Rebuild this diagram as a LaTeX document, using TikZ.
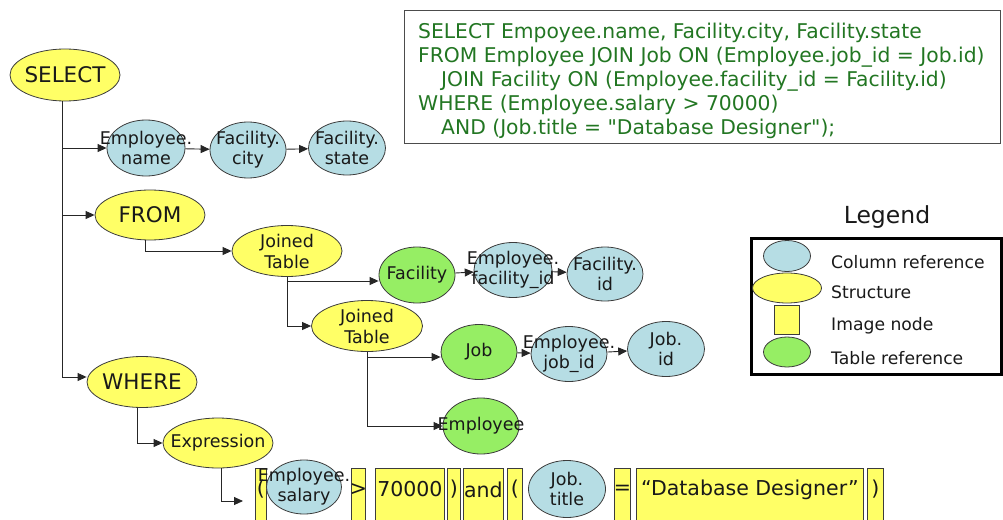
\documentclass[tikz,border=0pt]{standalone}
\usepackage{fontspec}
\setmainfont{DejaVu Sans}
\usetikzlibrary{shapes.geometric,arrows.meta}

\definecolor{colblue}{RGB}{182,221,228}
\definecolor{stryel}{RGB}{255,255,102}
\definecolor{tabgreen}{RGB}{150,238,100}
\definecolor{sqlgreen}{RGB}{34,118,34}
\definecolor{edge}{RGB}{60,60,60}

\newcommand\fbig{\fontsize{21.5}{24}\selectfont}
\newcommand\fmid{\fontsize{17.5}{21}\selectfont}
\newcommand\fcol{\fontsize{17.5}{20}\selectfont}
\newcommand\fimg{\fontsize{20.5}{24}\selectfont}
\newcommand\fsql{\fontsize{20.3}{24}\selectfont}
\newcommand\fleg{\fontsize{17.2}{20}\selectfont}

\begin{document}
\begin{tikzpicture}[x=1pt,y=-1pt,
  shp/.style={ellipse, draw=edge, line width=0.8pt, inner sep=0pt},
  lab/.style={align=center, text=black!90, inner sep=0pt},
  colref/.style={shp, fill=colblue, label={[lab, font=\fcol]center:#1}},
  tabref/.style={shp, fill=tabgreen, label={[lab, font=\fmid]center:#1}},
  strbig/.style={shp, fill=stryel, minimum width=110pt, label={[lab, font=\fbig]center:#1}},
  strmid/.style={shp, fill=stryel, minimum width=110pt, label={[lab, font=\fmid]center:#1}},
  imgbox/.style={rectangle, draw=edge, line width=0.8pt, fill=stryel, inner sep=0pt,
                 minimum height=60pt, anchor=north west,
                 label={[lab, font=\fimg, yshift=9pt]center:#1}},
  arr/.style={draw=black!85, line width=0.9pt, -{Triangle[length=9pt,width=8pt]}},
  legtxt/.style={anchor=base west, font=\fleg, text=black!90, inner sep=0pt}
]
\useasboundingbox (0,0) rectangle (1003,519);

% ---- SQL statement ----
\node[draw=black!70, line width=0.9pt, anchor=north west, inner sep=0pt,
      minimum width=596pt, minimum height=133pt] (sqlbox) at (404,10) {};
\node[anchor=north west, align=left, font=\fsql, text=sqlgreen, inner sep=0pt] (sql) at (418,23)
  {SELECT Empoyee.name, Facility.city, Facility.state\\
   FROM Employee JOIN Job ON (Employee.job\_id = Job.id)\\
   \hspace*{23pt}JOIN Facility ON (Employee.facility\_id = Facility.id)\\
   WHERE (Employee.salary > 70000)\\
   \hspace*{23pt}AND (Job.title = \textquotedbl Database Designer\textquotedbl);};

% ---- structure nodes ----
\node[strbig=SELECT, minimum height=52pt] (sel) at (65,75) {};
\node[strbig=FROM, minimum height=50pt] (from) at (150,215) {};
\node[strbig=WHERE, minimum height=51pt] (where) at (142,382) {};
\node[strmid={Joined\\Table}, minimum height=51pt] (jt1) at (287,251) {};
\node[strmid={Joined\\Table}, minimum width=111pt, minimum height=51pt] (jt2) at (367,326) {};
\node[strmid=Expression, minimum height=50pt] (expr) at (218,443) {};

% ---- column references ----
\node[colref={Employee.\\name}, minimum width=78pt, minimum height=56pt] (ename) at (146,148) {};
\node[colref={Facility.\\city}, minimum width=76pt, minimum height=56pt] (fcity) at (248,150) {};
\node[colref={Facility.\\state}, minimum width=77pt, minimum height=54pt] (fstate) at (347,148) {};
\node[colref={Employee.\\facility\_id}, minimum width=78pt, minimum height=55pt] (efac) at (513,270) {};
\node[colref={Facility.\\id}, minimum width=76pt, minimum height=54pt] (fid) at (605,274) {};
\node[colref={Employee.\\job\_id}, minimum width=76pt, minimum height=55pt] (ejob) at (569,354) {};
\node[colref={Job.\\id}, minimum width=77pt, minimum height=55pt] (jid) at (666,349) {};

% ---- table references ----
\node[tabref=Facility, minimum width=76pt, minimum height=56pt] (fac) at (417,275) {};
\node[tabref=Job, minimum width=76pt, minimum height=55pt] (job) at (479,352) {};
\node[tabref=Employee, minimum width=76pt, minimum height=56pt] (emp) at (481,426) {};

% ---- expression row ----
\node[imgbox={(}, minimum width=11pt] (r1) at (255,468) {};
\node[imgbox={>}, minimum width=14pt] (r2) at (351,468) {};
\node[imgbox={70000}, minimum width=69pt] (r3) at (375,468) {};
\node[imgbox={)}, minimum width=13pt] (r4) at (447,468) {};
\node[imgbox={and}, minimum width=40pt] (r5) at (463,468) {};
\node[imgbox={(}, minimum width=15pt] (r6) at (507,468) {};
\node[imgbox={{=}}, minimum width=16pt] (r7) at (614,468) {};
\node[imgbox={“Database Designer”}, minimum width=227pt] (r8) at (636,468) {};
\node[imgbox={)}, minimum width=16pt] (r9) at (867,468) {};
\node[colref={Employee.\\salary}, minimum width=75pt, minimum height=54pt] (esal) at (304,487) {};
\node[colref={Job.\\title}, minimum width=77pt, minimum height=57pt] (jtitle) at (567,489) {};

% ---- connectors ----
\coordinate (trunk) at ([xshift=-3pt]sel.south);
\draw[arr] (trunk) |- ([yshift=5pt]where.west);
\draw[arr] (trunk |- ename.west) -- (ename.west);
\draw[arr] (trunk |- from.west) -- (from.west);
\draw[arr] (ename) -- (fcity);
\draw[arr] (fcity) -- (fstate);

\draw[arr] ([xshift=-5pt]from.south) |- (jt1.west);
\draw[arr] (jt1.south) |- (jt2.west);
\draw[arr] (jt1.south |- 0,281) -- (fac.west |- 0,281);
\draw[arr] (fac) -- (efac);
\draw[arr] (efac) -- (fid);

\draw[arr] (jt2.south) |- (emp.west);
\draw[arr] (jt2.south |- 0,357) -- (job.west |- 0,357);
\draw[arr] (job) -- (ejob);
\draw[arr] (ejob) -- (jid);

\draw[arr] ([xshift=-5pt]where.south) |- (expr.west);
\coordinate (rowin) at (243,501);
\draw[arr] ([xshift=3pt]expr.south) |- (rowin);

% ---- legend ----
\node[font=\fontsize{23.5}{27}\selectfont, text=black!90] (legtitle) at (887,217) {Legend};
\node[draw=black, line width=2.6pt, anchor=north west, inner sep=0pt,
      minimum width=250pt, minimum height=136pt] (legbox) at (750,237) {};
\node[shp, fill=colblue, minimum width=47pt, minimum height=31pt] (lg1) at (787,256) {};
\node[shp, fill=stryel, minimum width=69pt, minimum height=30pt] (lg2) at (787,288) {};
\node[rectangle, draw=edge, line width=0.8pt, fill=stryel, minimum width=25pt, minimum height=29pt, inner sep=0pt] (lg3) at (787,320) {};
\node[shp, fill=tabgreen, minimum width=47pt, minimum height=30pt] (lg4) at (787,352) {};
\node[legtxt] (lt1) at (831,268) {Column reference};
\node[legtxt] (lt2) at (831,298) {Structure};
\node[legtxt] (lt3) at (831,330) {Image node};
\node[legtxt] (lt4) at (831,364) {Table reference};
\end{tikzpicture}
\end{document}
